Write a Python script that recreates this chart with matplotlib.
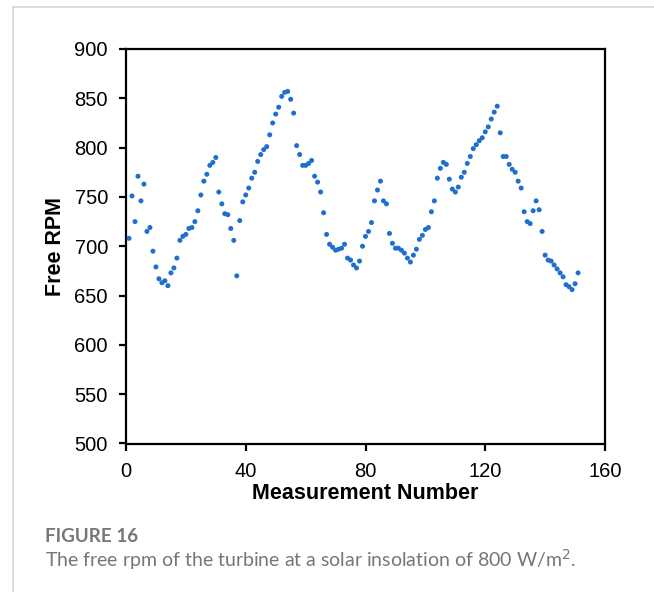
import matplotlib
matplotlib.use("Agg")
import matplotlib.pyplot as plt
from matplotlib.lines import Line2D

measurement = list(range(1, 152))
rpm = [708, 751, 725, 771, 746, 763, 715, 719, 695, 679,
       667, 663, 665, 660, 673, 678, 688, 706, 710, 712,
       718, 719, 725, 736, 752, 766, 773, 782, 785, 790,
       755, 743, 733, 732, 718, 706, 670, 726, 745, 752,
       759, 769, 775, 786, 793, 798, 801, 813, 825, 834,
       841, 852, 856, 857, 849, 835, 802, 793, 782, 782,
       784, 787, 771, 765, 755, 734, 712, 702, 699, 696,
       697, 698, 702, 688, 686, 681, 678, 685, 700, 710,
       715, 724, 746, 757, 766, 746, 743, 713, 703, 698,
       698, 696, 693, 688, 684, 691, 697, 707, 711, 717,
       719, 735, 746, 769, 779, 785, 783, 768, 758, 755,
       760, 770, 775, 784, 791, 799, 803, 807, 810, 816,
       821, 829, 836, 842, 815, 791, 791, 783, 778, 775,
       766, 759, 735, 725, 723, 736, 746, 737, 715, 691,
       686, 685, 681, 677, 673, 669, 661, 659, 656, 662,
       673]

x_ticks = [0, 40, 80, 120, 160]
y_ticks = [500, 550, 600, 650, 700, 750, 800, 850, 900]

plt.rcParams['font.family'] = ['Liberation Sans', 'DejaVu Sans']

fig = plt.figure(figsize=(6.54, 5.92), dpi=100)
ax = fig.add_axes([126/654, 1-443.5/592, (605-126)/654, (443.5-49)/592])

ax.scatter(measurement, rpm, s=13, color='#1f6fcf', edgecolors='none', zorder=3)

ax.set_xlim(0, 160)
ax.set_ylim(500, 900)
ax.set_xticks(x_ticks)
ax.set_yticks(y_ticks)
for sp in ax.spines.values():
    sp.set_linewidth(1.6)
    sp.set_color('black')
ax.tick_params(axis='both', direction='out', length=5, width=1.6,
               labelsize=14.5, pad=8, colors='black')

ax.set_xlabel('Measurement Number', fontsize=15.5, fontweight='bold', labelpad=2)
ax.set_ylabel('Free RPM', fontsize=15.5, fontweight='bold', labelpad=6)

# card border
fig.add_artist(Line2D([13/654, 13/654], [0, 1-7/592], transform=fig.transFigure,
                      color='#d6d6d6', lw=1.2))
fig.add_artist(Line2D([13/654, 1], [1-7/592, 1-7/592], transform=fig.transFigure,
                      color='#d6d6d6', lw=1.2))

fig.text(45/654, 1-542/592, 'FIGURE 16', fontsize=13.6, fontweight='bold',
         color='#767676', family=['Lato', 'DejaVu Sans'], va='baseline')
fig.text(45/654, 1-567/592, 'The free rpm of the turbine at a solar insolation of 800 W/m$^{2}$.',
         fontsize=14, color='#767676', family=['Lato', 'DejaVu Sans'], va='baseline')

fig.savefig('out.png', dpi=100)
